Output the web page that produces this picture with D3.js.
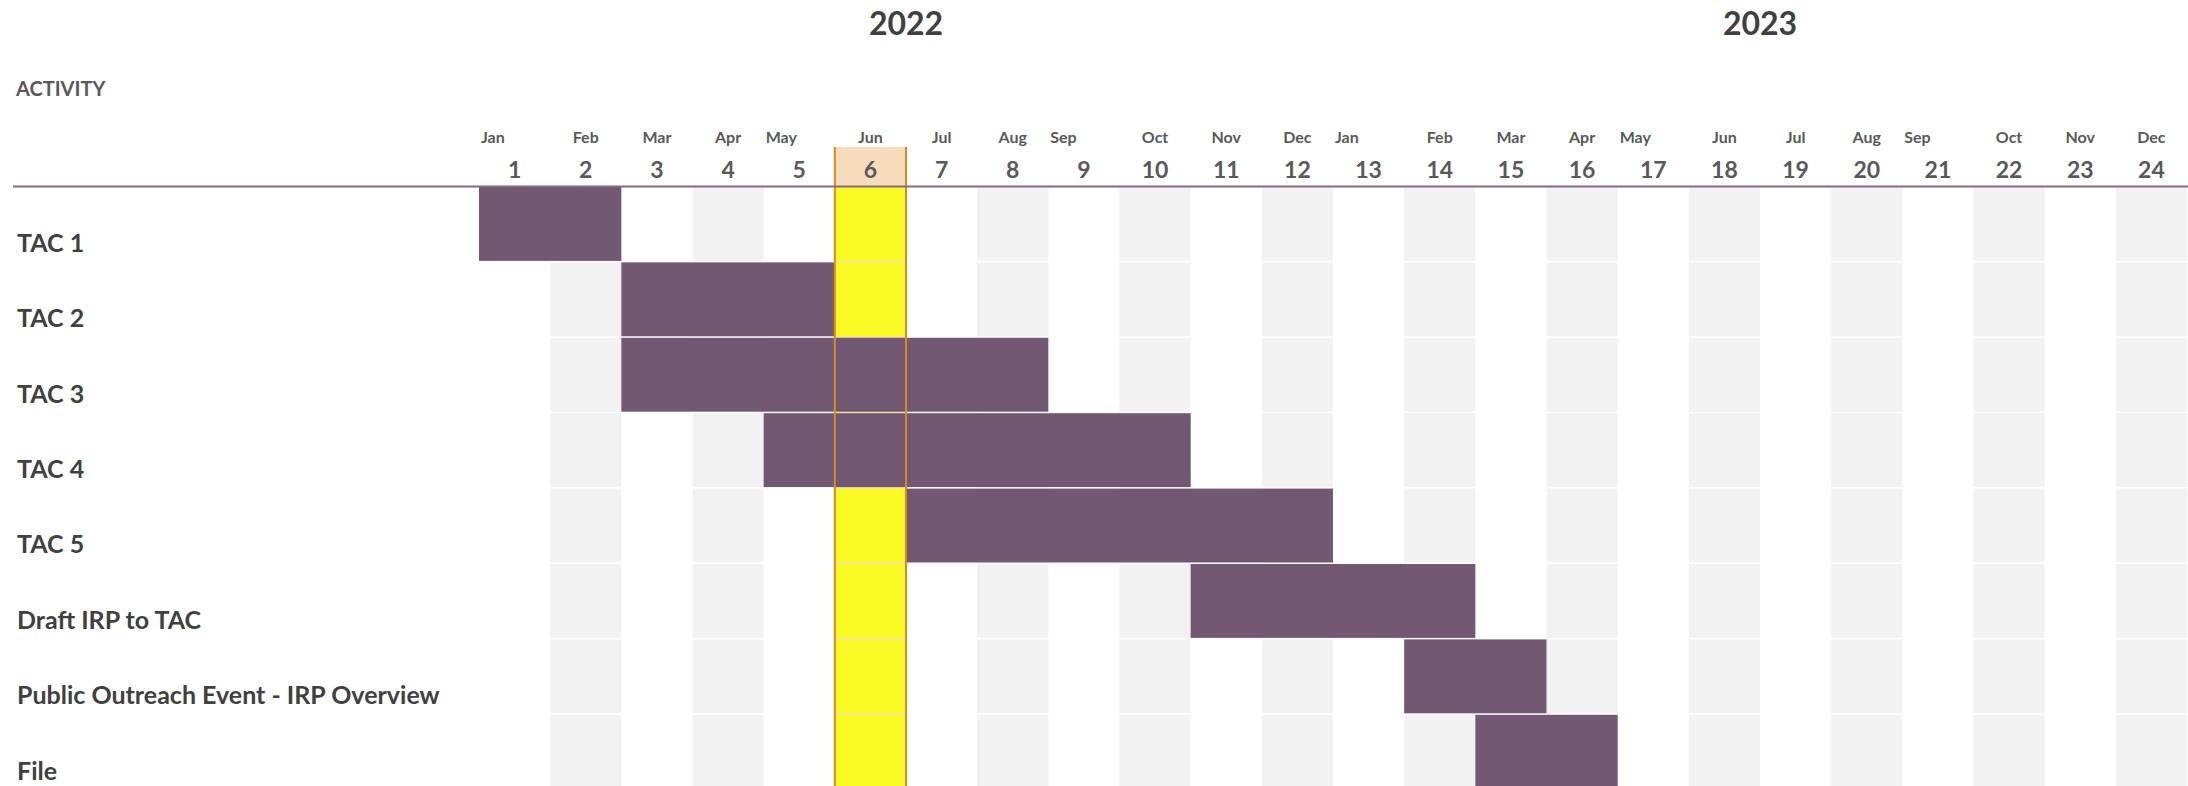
<!DOCTYPE html>
<html>
<head>
<meta charset="utf-8">
<script src="https://cdn.jsdelivr.net/npm/d3@7"></script>
<style>
  body { margin: 0; background: #fff; }
  text { font-family: Lato, "Open Sans", sans-serif; font-weight: bold; }
</style>
</head>
<body>
<div id="chart-area"></div>
<script>
// activities and their planned periods (period numbers, inclusive)
var activities = ["TAC 1", "TAC 2", "TAC 3", "TAC 4", "TAC 5",
    "Draft IRP to TAC", "Public Outreach Event - IRP Overview", "File"];
var startPeriod = [1, 3, 3, 5, 7, 11, 14, 15];
var endPeriod = [2, 5, 8, 10, 12, 14, 15, 16];

var periods = [1, 2, 3, 4, 5, 6, 7, 8, 9, 10, 11, 12,
    13, 14, 15, 16, 17, 18, 19, 20, 21, 22, 23, 24];
var monthNames = ["Jan", "Feb", "Mar", "Apr", "May", "Jun", "Jul", "Aug", "Sep", "Oct", "Nov", "Dec",
    "Jan", "Feb", "Mar", "Apr", "May", "Jun", "Jul", "Aug", "Sep", "Oct", "Nov", "Dec"];
var years = ["2022", "2023"];
var currentPeriod = 6;

var width = 2188, height = 786;
var gridLeft = 479, gridRight = 2187, headTop = 147, gridTop = 187, rowStep = 75.4;

var svg = d3.select("#chart-area").append("svg")
    .attr("width", width)
    .attr("height", height);

var x = d3.scaleBand().domain(periods).range([gridLeft, gridRight]).padding(0);
var y = d3.scaleBand().domain(activities)
    .range([gridTop, gridTop + rowStep * activities.length])
    .paddingInner(0.02).paddingOuter(0.01).align(0);

var barColor = "#735873",
    shadeColor = "#f2f2f2",
    nowFill = "#f9f923",
    nowHead = "#f7dcbc",
    nowLine = "#d98a1c",
    textColor = "#595959",
    labelColor = "#404040";

// current period column background (peach shows through row gaps)
svg.append("rect")
    .attr("x", x(currentPeriod))
    .attr("y", headTop)
    .attr("width", x.bandwidth())
    .attr("height", height - headTop)
    .attr("fill", nowHead);

// shaded cells for even periods, per row
var cells = [];
activities.forEach(function(a) {
    periods.forEach(function(p) {
        cells.push({a: a, p: p});
    });
});

svg.append("g").selectAll("rect")
    .data(cells.filter(function(d) { return d.p % 2 === 0 || d.p === currentPeriod; }))
    .enter().append("rect")
    .attr("x", function(d) { return x(d.p); })
    .attr("y", function(d) { return y(d.a); })
    .attr("width", x.bandwidth())
    .attr("height", y.bandwidth())
    .attr("fill", function(d) { return d.p === currentPeriod ? nowFill : shadeColor; });

// bars
svg.append("g").selectAll("rect")
    .data(activities)
    .enter().append("rect")
    .attr("x", function(d, i) { return x(startPeriod[i]); })
    .attr("y", function(d) { return y(d); })
    .attr("width", function(d, i) { return x(endPeriod[i]) + x.bandwidth() - x(startPeriod[i]); })
    .attr("height", y.bandwidth())
    .attr("fill", barColor);

// current period borders
[x(currentPeriod), x(currentPeriod) + x.bandwidth()].forEach(function(px) {
    svg.append("line")
        .attr("x1", px).attr("x2", px)
        .attr("y1", headTop).attr("y2", height)
        .attr("stroke", nowLine)
        .attr("stroke-width", 2);
});

// header rule
svg.append("line")
    .attr("x1", 13).attr("x2", width)
    .attr("y1", gridTop - 0.5).attr("y2", gridTop - 0.5)
    .attr("stroke", "#84697f")
    .attr("stroke-width", 2);

// years centred over their 12 periods
svg.append("g").selectAll("text")
    .data(years)
    .enter().append("text")
    .attr("x", function(d, i) { return x(periods[i * 12]) + x.bandwidth() * 6; })
    .attr("y", 35)
    .attr("text-anchor", "middle")
    .attr("fill", labelColor)
    .style("font-size", "32px")
    .text(function(d) { return d; });

svg.append("text")
    .attr("x", 16)
    .attr("y", 96)
    .attr("fill", textColor)
    .style("font-size", "20px")
    .text("ACTIVITY");

// month names
svg.append("g").selectAll("text")
    .data(periods)
    .enter().append("text")
    .attr("x", function(d, i) { return i % 4 === 0 ? x(d) + 2 : x(d) + x.bandwidth() / 2; })
    .attr("y", 143)
    .attr("text-anchor", function(d, i) { return i % 4 === 0 ? "start" : "middle"; })
    .attr("fill", textColor)
    .style("font-size", "16px")
    .text(function(d, i) { return monthNames[i]; });

// period numbers
svg.append("g").selectAll("text")
    .data(periods)
    .enter().append("text")
    .attr("x", function(d) { return x(d) + x.bandwidth() / 2; })
    .attr("y", 178)
    .attr("text-anchor", "middle")
    .attr("fill", textColor)
    .style("font-size", "23px")
    .text(function(d) { return d; });

// activity labels
svg.append("g").selectAll("text")
    .data(activities)
    .enter().append("text")
    .attr("x", 17)
    .attr("y", function(d) { return y(d) + y.bandwidth() - 9; })
    .attr("fill", labelColor)
    .style("font-size", "25px")
    .text(function(d) { return d; });
</script>
</body>
</html>
